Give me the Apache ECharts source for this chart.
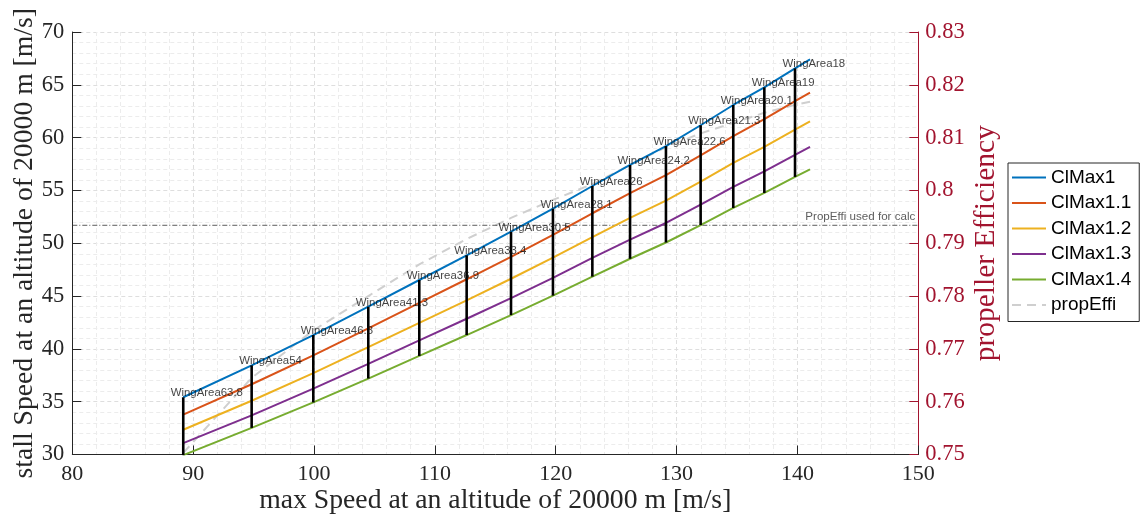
<!DOCTYPE html>
<html><head><meta charset="utf-8">
<script src="https://cdn.jsdelivr.net/npm/echarts@6/dist/echarts.min.js"></script>
<style>html,body{margin:0;padding:0;background:#fff}#c{width:1142px;height:517px}</style>
</head><body><div id="c"></div>
<script>
// ---- data ----
const maxSpeed  = [89.18, 94.84, 99.94, 104.49, 108.71, 112.63, 116.30, 119.77, 123.03, 126.15, 129.12, 131.99, 134.69, 137.26, 139.80, 141.04];
const clMax1    = [35.42, 38.44, 41.31, 43.99, 46.52, 48.86, 51.09, 53.27, 55.42, 57.41, 59.20, 61.17, 63.09, 64.76, 66.56, 67.41];
const clMax1_1  = [33.77, 36.65, 39.39, 41.94, 44.36, 46.59, 48.71, 50.79, 52.84, 54.74, 56.44, 58.33, 60.15, 61.75, 63.46, 64.27];
const clMax1_2  = [32.34, 35.09, 37.71, 40.16, 42.47, 44.60, 46.64, 48.63, 50.59, 52.41, 54.04, 55.84, 57.60, 59.12, 60.76, 61.54];
const clMax1_3  = [31.07, 33.71, 36.23, 38.58, 40.80, 42.85, 44.81, 46.72, 48.61, 50.35, 51.92, 53.65, 55.33, 56.80, 58.37, 59.12];
const clMax1_4  = [29.94, 32.52, 34.93, 37.19, 39.33, 41.31, 43.20, 45.04, 46.84, 48.53, 50.07, 51.72, 53.34, 54.76, 56.28, 56.99];
const propEffi  = [0.7503, 0.7645, 0.7735, 0.7800, 0.7860, 0.7908, 0.7948, 0.7982, 0.8012, 0.8048, 0.8082, 0.8108, 0.8128, 0.8147, 0.8162, 0.8168];
const wingAreas = ['63.8', '54', '46.8', '41.3', '36.9', '33.4', '30.5', '28.1', '26', '24.2', '22.6', '21.3', '20.1', '19', '18'];
const propEffiUsed = 0.7934;
const xRange = [80, 150];
const seriesNames = ['ClMax1', 'ClMax1.1', 'ClMax1.2', 'ClMax1.3', 'ClMax1.4'];
const xTitle = 'max Speed at an altitude of 20000 m [m/s]';
const yTitleLeft = 'stall Speed at an altitude of 20000 m [m/s]';
const yTitleRight = 'propeller Efficiency';
const refLabel = 'PropEffi used for calc';

const colors = ['#0072BD', '#D95319', '#EDB120', '#7E2F8E', '#77AC30'];
const crimson = '#A2142F';
const serif = 'Liberation Serif';
const sans = 'Liberation Sans';
const clSeries = [clMax1, clMax1_1, clMax1_2, clMax1_3, clMax1_4];

const chart = echarts.init(document.getElementById('c'), null, {renderer: 'canvas'});

const gridStyle = {show: true, lineStyle: {color: '#dedede', type: [4, 3], width: 1}};
const minorGridStyle = {show: true, lineStyle: {color: '#ececec', type: [4, 3], width: 1}};

const series = [];
// propEffi dashed (right axis), lowest
series.push({
  name: 'propEffi', type: 'line', yAxisIndex: 1, z: 1, symbol: 'none',
  data: maxSpeed.map((x, i) => [x, propEffi[i]]),
  lineStyle: {color: '#cfcfcf', width: 2, type: [9, 6]},
  itemStyle: {color: '#cfcfcf'}
});
// reference line: propeller efficiency used for calc
series.push({
  name: 'ref', type: 'line', yAxisIndex: 1, z: 2, symbol: 'none', silent: true,
  data: xRange.map(x => [x, propEffiUsed]),
  lineStyle: {color: '#333', width: 0.8, type: [5, 2, 1, 2]}
});
series.push({
  type: 'scatter', yAxisIndex: 1, z: 6, silent: true, symbolSize: 1,
  itemStyle: {color: 'rgba(0,0,0,0)'},
  data: [{name: refLabel, value: [xRange[1], propEffiUsed]}],
  label: {show: true, formatter: '{b}', position: 'inside', align: 'right', verticalAlign: 'bottom',
          offset: [-3, -2], fontFamily: sans, fontSize: 11.6, color: '#333'}
});
clSeries.forEach((arr, k) => {
  series.push({
    name: seriesNames[k], type: 'line', z: 3, symbol: 'none',
    data: maxSpeed.map((x, i) => [x, arr[i]]),
    lineStyle: {color: colors[k], width: 2},
    itemStyle: {color: colors[k]}
  });
});
// vertical black lines
series.push({
  type: 'custom', z: 5, silent: true,
  data: wingAreas.map((w, i) => [maxSpeed[i], clMax1[i], clMax1_4[i]]),
  encode: {x: 0, y: [1, 2]},
  renderItem: function (params, api) {
    const p1 = api.coord([api.value(0), api.value(1)]);
    const p2 = api.coord([api.value(0), api.value(2)]);
    return {type: 'line', shape: {x1: p1[0], y1: p1[1], x2: p2[0], y2: p2[1]},
            style: {stroke: '#000', lineWidth: 2.6}};
  }
});
// wing area labels
series.push({
  type: 'scatter', z: 6, silent: true, symbolSize: 1,
  itemStyle: {color: 'rgba(0,0,0,0)'},
  data: wingAreas.map((w, i) => ({name: 'WingArea' + w, value: [maxSpeed[i], clMax1[i]]})),
  label: {show: true, formatter: '{b}', position: 'inside', align: 'left', verticalAlign: 'middle',
          offset: [-12.5, -4], fontFamily: sans, fontSize: 11.4, color: '#111'}
});

chart.setOption({
  animation: false,
  backgroundColor: '#fff',
  grid: {left: 72.3, right: 223.7, top: 32, bottom: 62.5, containLabel: false, outerBoundsMode: 'none'},
  legend: {
    data: seriesNames.concat(['propEffi']),
    orient: 'vertical', left: 1008, top: 163,
    itemWidth: 34, itemHeight: 14, itemGap: 6.5,
    padding: [5, 8, 7, 3],
    itemStyle: {opacity: 0},
    borderColor: '#262626', borderWidth: 1, backgroundColor: '#fff',
    textStyle: {fontFamily: sans, fontSize: 19, color: '#000'}
  },
  xAxis: {
    type: 'value', min: xRange[0], max: xRange[1], interval: 10,
    name: xTitle, nameLocation: 'middle', nameGap: 32, nameMoveOverlap: false,
    nameTextStyle: {fontFamily: serif, fontSize: 27.7, color: '#262626'},
    axisLine: {show: true, onZero: false, lineStyle: {color: '#262626', width: 1}},
    axisTick: {show: true, inside: true, length: 9, lineStyle: {color: '#262626'}},
    axisLabel: {fontFamily: serif, fontSize: 22, color: '#262626', margin: 9},
    splitLine: gridStyle,
    minorTick: {show: false, splitNumber: 5},
    minorSplitLine: minorGridStyle
  },
  yAxis: [{
    type: 'value', min: 30, max: 70, interval: 5, position: 'left',
    name: yTitleLeft, nameLocation: 'middle', nameGap: 34, nameRotate: 90, nameMoveOverlap: false,
    nameTextStyle: {fontFamily: serif, fontSize: 27.7, color: '#262626'},
    axisLine: {show: true, lineStyle: {color: '#262626', width: 1}},
    axisTick: {show: true, inside: true, length: 9, lineStyle: {color: '#262626'}},
    axisLabel: {fontFamily: serif, fontSize: 22.5, color: '#262626', margin: 8},
    splitLine: gridStyle,
    minorTick: {show: false, splitNumber: 5},
    minorSplitLine: minorGridStyle
  }, {
    type: 'value', min: 0.75, max: 0.83, interval: 0.01, position: 'right',
    name: yTitleRight, nameLocation: 'middle', nameGap: 53, nameRotate: 90, nameMoveOverlap: false,
    nameTextStyle: {fontFamily: serif, fontSize: 29.5, color: crimson},
    axisLine: {show: true, lineStyle: {color: crimson, width: 1}},
    axisTick: {show: true, inside: true, length: 9, lineStyle: {color: crimson}},
    axisLabel: {fontFamily: serif, fontSize: 22.5, color: crimson, margin: 7,
                formatter: v => String(Math.round(v * 100) / 100)},
    splitLine: {show: false}
  }],
  series: series
});
</script></body></html>
